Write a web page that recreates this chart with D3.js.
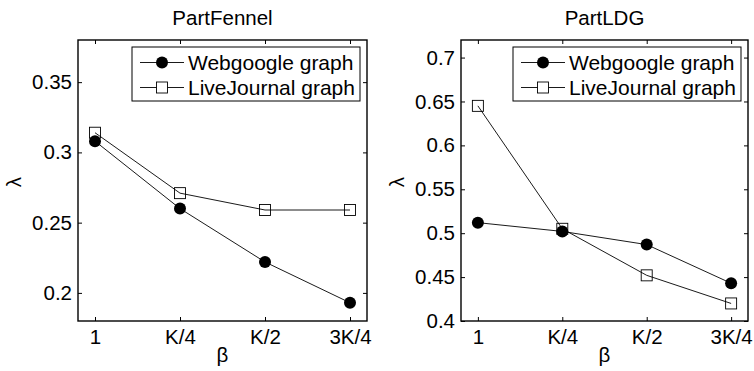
<!DOCTYPE html>
<html>
<head>
<meta charset="utf-8">
<script src="https://cdn.jsdelivr.net/npm/d3@7"></script>
<style>
  body { margin: 0; background: #fff; }
  text { font-family: "Liberation Sans", Arial, sans-serif; fill: #000; }
</style>
</head>
<body>
<div id="chart"></div>
<script>
// values
var categories = ["1", "K/4", "K/2", "3K/4"];
var seriesNames = ["Webgoogle graph", "LiveJournal graph"];

var fennelWebgoogle = [0.308, 0.260, 0.222, 0.193];
var fennelLiveJournal = [0.314, 0.271, 0.259, 0.259];
var fennelTicks = [0.2, 0.25, 0.3, 0.35];

var ldgWebgoogle = [0.512, 0.502, 0.487, 0.443];
var ldgLiveJournal = [0.645, 0.505, 0.452, 0.420];
var ldgTicks = [0.4, 0.45, 0.5, 0.55, 0.6, 0.65, 0.7];

var panels = [
    { title: "PartFennel", left: 78, right: 367, yDomain: [0.18, 0.38], ticks: fennelTicks,
      series: [fennelWebgoogle, fennelLiveJournal] },
    { title: "PartLDG", left: 461, right: 748, yDomain: [0.4, 0.72], ticks: ldgTicks,
      series: [ldgWebgoogle, ldgLiveJournal] }
];

function main() {
    var width = 754, height = 371;
    var top = 40, bottom = 321;
    var fs = "20.5px";

    var svg = d3.select("#chart").append("svg")
        .attr("width", width)
        .attr("height", height);

    panels.forEach(function (p) {
        var x = d3.scalePoint()
            .domain(categories)
            .range([p.left, p.right])
            .padding(0.2);
        var y = d3.scaleLinear()
            .domain(p.yDomain)
            .range([bottom, top]);
        var fmt = d3.format(".2~f");

        var g = svg.append("g");

        // ticks on all four sides, pointing inwards
        var ax = [
            { a: d3.axisBottom(x).tickPadding(8), t: "translate(0," + bottom + ")" },
            { a: d3.axisTop(x).tickFormat(""), t: "translate(0," + top + ")" },
            { a: d3.axisLeft(y).tickValues(p.ticks).tickFormat(fmt).tickPadding(6), t: "translate(" + p.left + ",0)" },
            { a: d3.axisRight(y).tickValues(p.ticks).tickFormat(""), t: "translate(" + p.right + ",0)" }
        ];
        ax.forEach(function (o) {
            var ag = g.append("g")
                .attr("transform", o.t)
                .call(o.a.tickSizeInner(-4).tickSizeOuter(0));
            ag.select(".domain").remove();
            ag.selectAll("line").attr("stroke", "#000").attr("stroke-width", 1);
            ag.selectAll("text")
                .style("font-size", fs)
                .style("font-family", "'Liberation Sans', Arial, sans-serif")
                .attr("fill", "#000");
        });

        g.append("rect")
            .attr("x", p.left).attr("y", top)
            .attr("width", p.right - p.left).attr("height", bottom - top)
            .attr("fill", "none").attr("stroke", "#000").attr("stroke-width", 1.4);

        // title and axis labels
        g.append("text")
            .attr("x", (p.left + p.right) / 2).attr("y", 25)
            .attr("text-anchor", "middle").style("font-size", fs)
            .text(p.title);
        g.append("text")
            .attr("x", (p.left + p.right) / 2).attr("y", 362)
            .attr("text-anchor", "middle").style("font-size", fs)
            .text("β");
        g.append("text")
            .attr("transform", "translate(" + (p.left - 57) + "," + 182 + ") rotate(-90)")
            .attr("text-anchor", "middle").style("font-size", fs)
            .text("λ");

        // lines
        var line = d3.line()
            .x(function (d, i) { return x(categories[i]); })
            .y(function (d) { return y(d); });

        p.series.forEach(function (s) {
            g.append("path")
                .datum(s)
                .attr("d", line)
                .attr("fill", "none")
                .attr("stroke", "#000")
                .attr("stroke-width", 0.9);
        });

        // markers
        g.selectAll(".dot")
            .data(p.series[0])
            .enter().append("circle")
            .attr("cx", function (d, i) { return x(categories[i]); })
            .attr("cy", function (d) { return y(d); })
            .attr("r", 6)
            .attr("fill", "#000");
        g.selectAll(".sq")
            .data(p.series[1])
            .enter().append("rect")
            .attr("x", function (d, i) { return x(categories[i]) - 5.5; })
            .attr("y", function (d) { return y(d) - 5.5; })
            .attr("width", 11).attr("height", 11)
            .attr("fill", "none").attr("stroke", "#000").attr("stroke-width", 0.9);

        // legend
        var lx = p.right - 235, ly = top + 7;
        var lg = g.append("g").attr("transform", "translate(" + lx + "," + ly + ")");
        lg.append("rect")
            .attr("width", 228).attr("height", 54)
            .attr("fill", "#fff").attr("stroke", "#000").attr("stroke-width", 1);
        seriesNames.forEach(function (name, i) {
            var cy = 15.5 + i * 25;
            lg.append("line")
                .attr("x1", 8).attr("x2", 52).attr("y1", cy).attr("y2", cy)
                .attr("stroke", "#000").attr("stroke-width", 0.9);
            if (i === 0) {
                lg.append("circle").attr("cx", 30).attr("cy", cy).attr("r", 6).attr("fill", "#000");
            } else {
                lg.append("rect").attr("x", 24.5).attr("y", cy - 5.5).attr("width", 11).attr("height", 11)
                    .attr("fill", "#fff").attr("stroke", "#000").attr("stroke-width", 0.9);
            }
            lg.append("text")
                .attr("x", 56).attr("y", cy + 7)
                .style("font-size", "21px")
                .text(name);
        });
    });
}

window.addEventListener('load', main);
</script>
</body>
</html>
